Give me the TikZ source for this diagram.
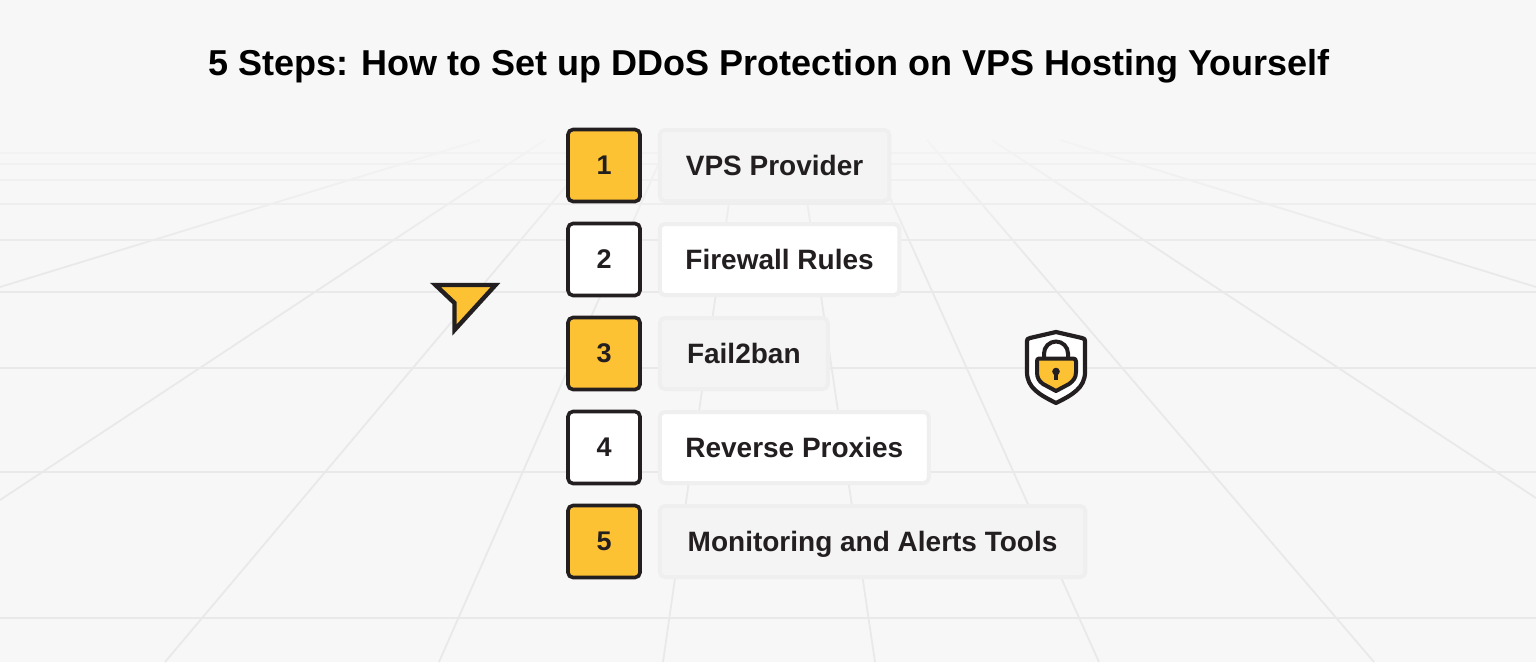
\documentclass[tikz,border=0pt]{standalone}
\usepackage{fontspec}
\setmainfont{Liberation Sans}
\usetikzlibrary{fadings, positioning}
\definecolor{ink}{HTML}{231F20}
\definecolor{amber}{HTML}{FDC134}
\definecolor{pagegray}{HTML}{F7F7F7}
\definecolor{gridgray}{HTML}{E9E9E9}
\definecolor{rimgray}{HTML}{EFEFEF}
\definecolor{softgray}{HTML}{F4F4F4}
\tikzfading[name=gridfade, top color=transparent!0, bottom color=transparent!100]
\tikzset{
	gridline/.style={draw=gridgray, line width=1.8pt},
	numbox/.style={draw=ink, line width=3.6pt, rounded corners=5pt, minimum width=72pt, minimum height=72pt, inner sep=0pt, font=\fontsize{27}{27}\selectfont\bfseries, text=ink},
	numyellow/.style={numbox, fill=amber},
	numwhite/.style={numbox, fill=white},
	labelbox/.style={draw=rimgray, line width=4pt, rounded corners=5pt, minimum height=71pt, inner sep=0pt, text height=24pt, text depth=5pt, font=\fontsize{28}{28}\selectfont\bfseries, text=ink},
	labelgray/.style={labelbox, fill=softgray},
	labelwhite/.style={labelbox, fill=white},
}

\begin{document}
\begin{tikzpicture}[x=1pt, y=-1pt]
	\useasboundingbox (0,0) rectangle (1536,662);
	\fill[pagegray] (0,0) rectangle (1536,662);
	% floor, rows
	\draw[gridline] (0,618) -- (1536,618);
	\draw[gridline] (0,472) -- (1536,472);
	\draw[gridline] (0,368) -- (1536,368);
	\draw[gridline] (0,292) -- (1536,292);
	\draw[gridline] (0,240) -- (1536,240);
	\draw[gridline] (0,204) -- (1536,204);
	\draw[gridline] (0,180) -- (1536,180);
	\draw[gridline] (0,164) -- (1536,164);
	\draw[gridline] (0,153) -- (1536,153);
	% floor, left of the middle
	\draw[gridline] (0,287) -- (480,140);
	\draw[gridline] (0,500) -- (545,140);
	\draw[gridline] (165,662) -- (605,140);
	\draw[gridline] (439,662) -- (669,140);
	\draw[gridline] (663,662) -- (738,140);
	% floor, right of the middle
	\draw[gridline] (875,662) -- (798,140);
	\draw[gridline] (1099,662) -- (864,140);
	\draw[gridline] (1374,662) -- (927,140);
	\draw[gridline] (1536,498) -- (992,140);
	\draw[gridline] (1536,287) -- (1060,140);
	% far rows melt away
	\fill[pagegray, path fading=gridfade] (-10,105) rectangle (1546,265);

	\node[font=\fontsize{36}{36}\selectfont\bfseries, text=black] (title) at (769,66) {5 Steps: How to Set up DDoS Protection on VPS Hosting Yourself};

	\node[numyellow] (num1) at (604,165.5) {1};
	\node[numwhite, below=18.4pt of num1] (num2) {2};
	\node[numyellow, below=18.4pt of num2] (num3) {3};
	\node[numwhite, below=18.4pt of num3] (num4) {4};
	\node[numyellow, below=18.4pt of num4] (num5) {5};

	\node[labelgray, minimum width=229.5pt, right=16pt of num1] (step1) {VPS Provider};
	\node[labelwhite, minimum width=239.5pt, right=16pt of num2] (step2) {Firewall Rules};
	\node[labelgray, minimum width=168pt, right=16pt of num3] (step3) {Fail2ban};
	\node[labelwhite, minimum width=269pt, right=16pt of num4] (step4) {Reverse Proxies};
	\node[labelgray, minimum width=425.5pt, right=16pt of num5] (step5) {Monitoring and Alerts Tools};

	% pointer
	\draw[fill=amber, draw=ink, line width=4.4pt, miter limit=10] (435.5,285) -- (495.5,285) -- (454.5,330) -- (454.5,303) -- cycle;

	% shield with padlock
	\draw[fill=white, draw=ink, line width=4.2pt, line join=round] (1056,332) -- (1082,338) .. controls (1084.5,338.5) and (1085,339.5) .. (1085,341) -- (1085,372) .. controls (1085,388) and (1072,395) .. (1056,403) .. controls (1040,395) and (1027,388) .. (1027,372) -- (1027,341) .. controls (1027,339.5) and (1027.5,338.5) .. (1030,338) -- cycle;
	\draw[draw=ink, line width=4pt] (1044,360) -- (1044,353.5) arc[start angle=180, end angle=360, radius=12] -- (1068,360);
	\draw[fill=amber, draw=ink, line width=4pt, line join=round] (1039,358.5) -- (1073,358.5) .. controls (1075,358.5) and (1076,359.5) .. (1076,361.5) -- (1076,372) .. controls (1076,378) and (1073,381) .. (1069,384) -- (1056,391) -- (1043,384) .. controls (1039,381) and (1037,378) .. (1037,372) -- (1037,361.5) .. controls (1037,359.5) and (1037.5,358.5) .. (1039,358.5) -- cycle;
	\fill[ink] (1056,371.5) circle[radius=3.8];
	\fill[ink] (1054.2,372) rectangle (1057.8,380);
\end{tikzpicture}
\end{document}
